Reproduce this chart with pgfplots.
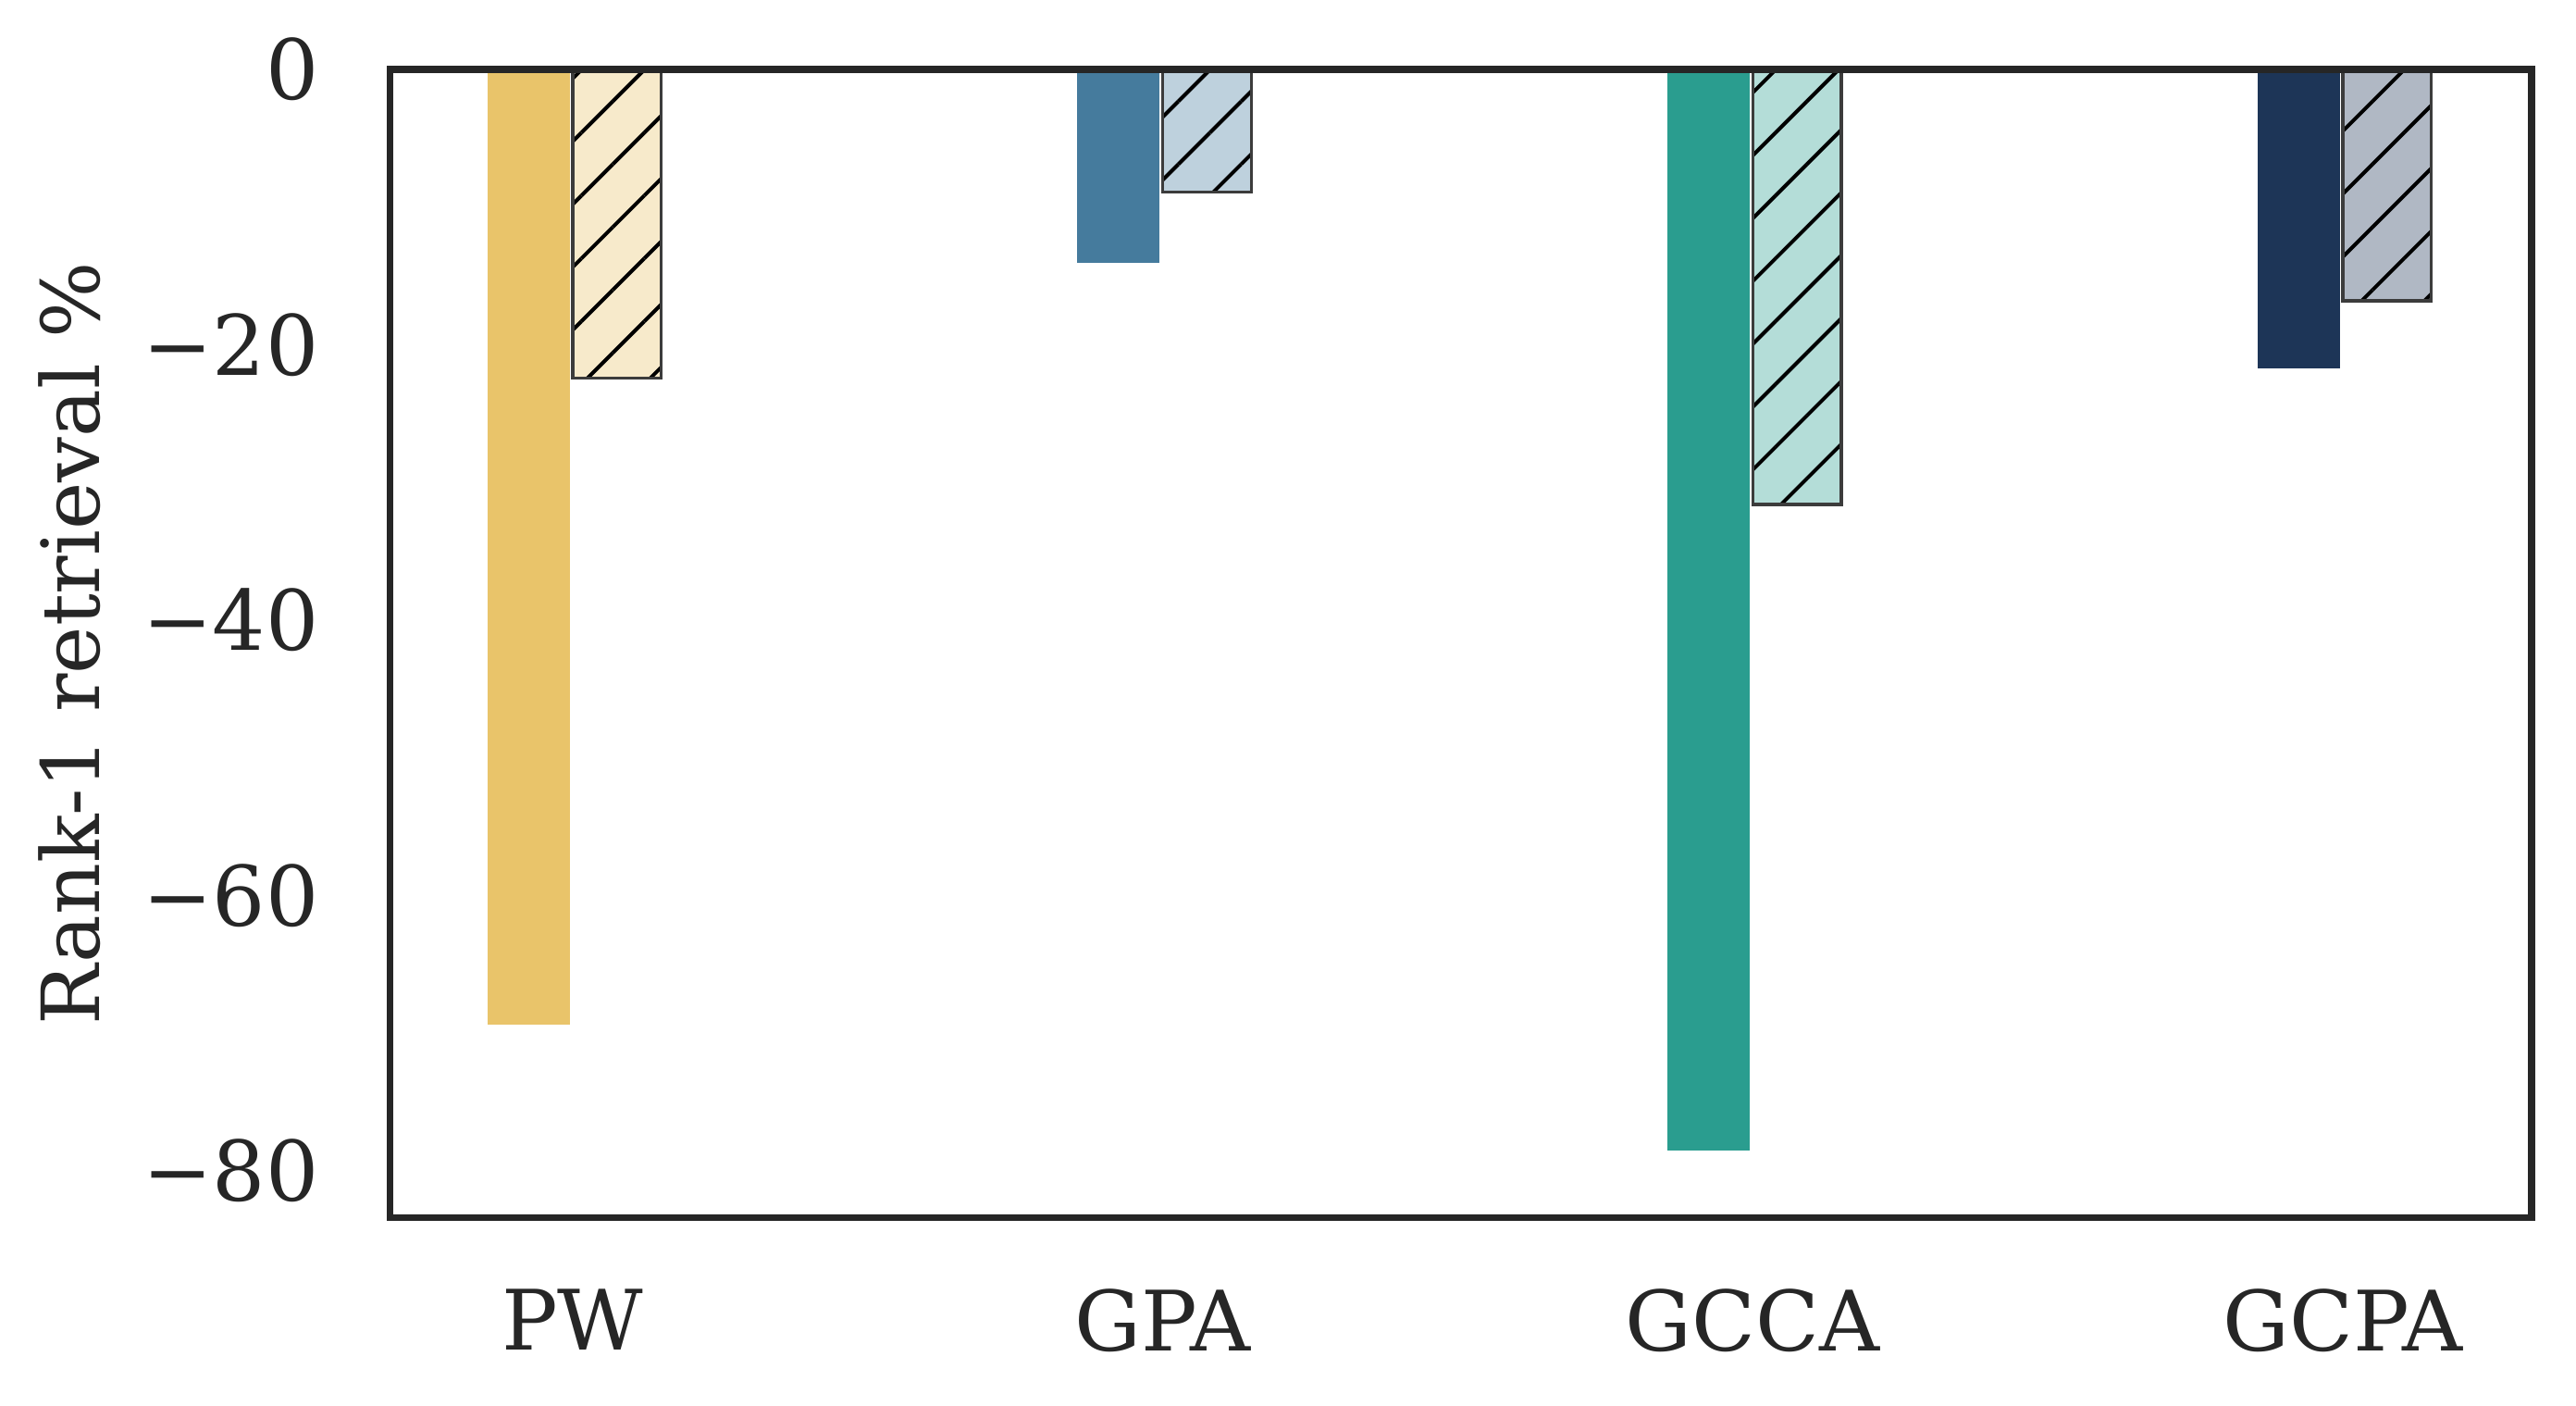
\documentclass[border=0pt]{standalone}
\usepackage{fontspec}
\setmainfont{DejaVu Serif}
\usepackage{pgfplots}
\pgfplotsset{compat=1.18}
\usetikzlibrary{calc,patterns.meta}

\definecolor{txt}{HTML}{262626}
\definecolor{cPW}{HTML}{E9C46A}
\definecolor{cGPA}{HTML}{457B9D}
\definecolor{cGCCA}{HTML}{2A9D8F}
\definecolor{cGCPA}{HTML}{1D3557}

\tikzset{
  solidbar/.style={fill=#1, draw=white, line width=1pt},
  hatchbar/.style={fill=#1!35!white, draw=txt!90, line width=0.5pt,
    postaction={pattern={Lines[angle=45,distance=7.2pt,line width=0.6pt]}, pattern color=black}},
}

\begin{document}
\begin{tikzpicture}
\begin{axis}[
  name=ax,
  scale only axis,
  width=347pt, height=186pt,
  xmin=-0.31, xmax=3.32,
  ymin=-83.4, ymax=0,
  ybar, bar width=0.15,
  xtick={0,1,2,3},
  xticklabels={PW,GPA,GCCA,GCPA},
  ytick={-80,-60,-40,-20,0},
  yticklabels={−80,−60,−40,−20,0},
  major tick length=0pt,
  tick label style={font=\fontsize{13.5}{16}\selectfont, text=txt},
  xticklabel style={yshift=-8pt},
  yticklabel style={xshift=-8pt},
  ylabel={Rank-1 retrieval \%},
  ylabel style={font=\fontsize{13}{15}\selectfont, text=txt,
    at={(rel axis cs:0,0.5)}, anchor=center, yshift=51.9pt},
  axis line style={draw=txt, line width=1.1pt},
  axis on top=true,
  clip=false,
]
% solid bars: first condition
\addplot[solidbar=cPW,   bar shift=-0.075] coordinates {(0,-69.6)};
\addplot[solidbar=cGPA,  bar shift=-0.075] coordinates {(1,-14.3)};
\addplot[solidbar=cGCCA, bar shift=-0.075] coordinates {(2,-78.7)};
\addplot[solidbar=cGCPA, bar shift=-0.075] coordinates {(3,-21.9)};
% hatched bars: second condition
\addplot[hatchbar=cPW,   bar shift=0.075] coordinates {(0,-22.4)};
\addplot[hatchbar=cGPA,  bar shift=0.075] coordinates {(1,-8.9)};
\addplot[hatchbar=cGCCA, bar shift=0.075] coordinates {(2,-31.6)};
\addplot[hatchbar=cGCPA, bar shift=0.075] coordinates {(3,-16.8)};
\end{axis}
\pgfresetboundingbox
\path ($(ax.south west)+(-63.15pt,-30.45pt)$) rectangle ($(ax.north east)+(7.2pt,11.25pt)$);
\end{tikzpicture}
\end{document}
